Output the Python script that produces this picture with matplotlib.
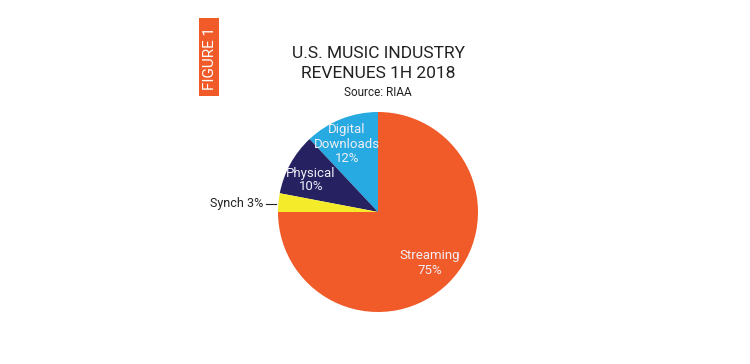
import matplotlib.pyplot as plt

# data (counter-clockwise from 12 o'clock)
labels = ['Digital\nDownloads\n12%', 'Physical\n10%', 'Synch 3%', 'Streaming\n75%']
shares = [12, 10, 3, 75]
colors = ['#27AAE1', '#262262', '#F4EC2A', '#F15A29']

W, H = 750, 364
plt.rcParams['font.family'] = ['Roboto', 'DejaVu Sans']

fig = plt.figure(figsize=(W / 100, H / 100), dpi=100)
ax = fig.add_axes([0, 0, 1, 1])

cx, cy, r = 378, H - 212, 100
wedges, _ = ax.pie(shares, colors=colors, startangle=90, counterclock=True,
                   center=(cx, cy), radius=r, frame=True,
                   wedgeprops=dict(linewidth=0))

ax.set_xlim(0, W)
ax.set_ylim(0, H)
ax.set_aspect('equal')
ax.axis('off')

# labels inside wedges
inner = '#EEEEF6'
ax.text(347, H - 144, labels[0], color=inner, fontsize=9.5, ha='center', va='center', linespacing=1.1)
ax.text(311, H - 180, labels[1], color=inner, fontsize=9.5, ha='center', va='center', linespacing=1.1)
ax.text(430, H - 263, labels[3], color=inner, fontsize=9.5, ha='center', va='center', linespacing=1.15)

# synch label with leader line
ax.text(263, H - 204, labels[2], color='#222222', fontsize=9, ha='right', va='center')
ax.plot([266, 276], [H - 204, H - 204], color='#222222', lw=0.8)

# title
ax.text(378, H - 53, 'U.S. MUSIC INDUSTRY', fontsize=12.5, ha='center', va='center', color='#222222')
ax.text(378, H - 73, 'REVENUES 1H 2018', fontsize=12.5, ha='center', va='center', color='#222222')
ax.text(378, H - 93, 'Source: RIAA', fontsize=8.5, ha='center', va='center', color='#222222')

# figure tag
ax.add_patch(plt.Rectangle((199, H - 96), 20, 78, color='#F15A29', lw=0))
ax.text(209.5, H - 58, 'FIGURE 1', color='white', fontsize=11, rotation=90, ha='center', va='center')

fig.savefig('out.png', dpi=100)
